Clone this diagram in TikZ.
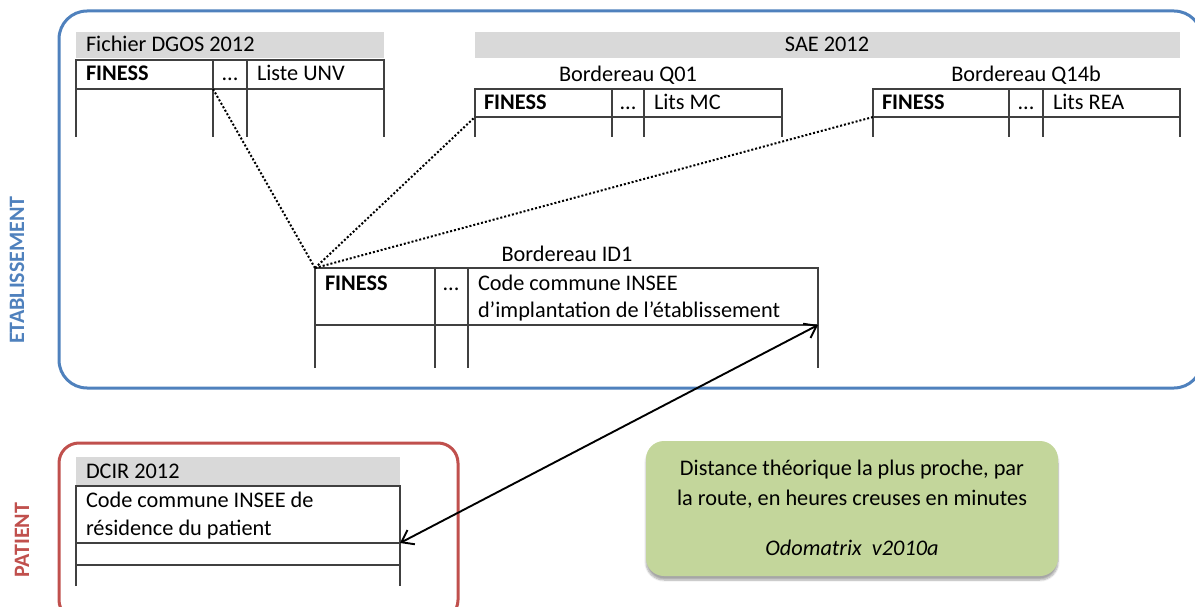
\documentclass[tikz,border=0pt]{standalone}
\usepackage{fontspec}
\setmainfont{Carlito}
\usetikzlibrary{arrows.meta,shadows.blur}
\definecolor{etabblue}{HTML}{4F81BD}
\definecolor{patred}{HTML}{C0504D}
\definecolor{hdrgray}{HTML}{D9D9D9}
\definecolor{greenfill}{HTML}{C3D69B}
\definecolor{tline}{HTML}{404040}
\begin{document}
\begin{tikzpicture}[x=1pt,y=-1pt,
  every node/.style={font=\fontsize{22.3}{27}\selectfont, inner sep=0pt, outer sep=0pt},
  hdrbar/.style={fill=hdrgray, draw=none},
  tbl/.style={draw=tline, line width=1.4pt},
  cell/.style={anchor=base west},
  bcell/.style={anchor=base west, font=\fontsize{22.3}{27}\selectfont\bfseries},
  dots/.style={anchor=base, font=\fontsize{22.3}{27}\selectfont},
  title/.style={anchor=base},
  link/.style={draw=black, line width=2pt, dash pattern=on 2pt off 2pt},
  dblarrow/.style={draw=black, line width=1.9pt, {Straight Barb[length=11pt,width=16pt]}-{Straight Barb[length=11pt,width=16pt]}},
  sidelabel/.style={rotate=90, font=\fontsize{22}{27}\selectfont\bfseries}
]
\useasboundingbox (0,0) rectangle (1195,607);

% ---------- group frames ----------
\draw[etabblue, line width=3pt, rounded corners=28pt] (59,11) rectangle (1202,388);
\draw[patred, line width=3pt, rounded corners=20pt] (59,443) rectangle (458,620);
\node[sidelabel, text=etabblue] (etab) at (17,270) {ETABLISSEMENT};
\node[sidelabel, text=patred] (pat) at (22,540) {PATIENT};

% ---------- Fichier DGOS 2012 ----------
\fill[hdrbar] (76,32) rectangle (384,58);
\node[cell] (dgost) at (86,52) {Fichier DGOS 2012};
\draw[tbl] (76,137) -- (76,60) -- (384,60) -- (384,137);
\draw[tbl] (76,89) -- (384,89);
\draw[tbl] (213,60) -- (213,137);
\draw[tbl] (247,60) -- (247,137);
\node[bcell] (dgosf) at (86,81) {FINESS};
\node[dots] (dgosd) at (230,81) {...};
\node[cell] (dgosl) at (257,81) {Liste UNV};
\coordinate (dgosjoin) at (213,89);

% ---------- SAE 2012 ----------
\fill[hdrbar] (475,32) rectangle (1180,58);
\node[title] (saet) at (827,52) {SAE 2012};

% Bordereau Q01
\node[title] (q01t) at (628,82) {Bordereau Q01};
\draw[tbl] (475,137) -- (475,89) -- (782,89) -- (782,137);
\draw[tbl] (475,117) -- (782,117);
\draw[tbl] (612,89) -- (612,137);
\draw[tbl] (644,89) -- (644,137);
\node[bcell] (q01f) at (484,110) {FINESS};
\node[dots] (q01d) at (628,110) {...};
\node[cell] (q01l) at (654,110) {Lits MC};
\coordinate (q01join) at (475,117);

% Bordereau Q14b
\node[title] (q14t) at (1026,82) {Bordereau Q14b};
\draw[tbl] (873,137) -- (873,89) -- (1180,89) -- (1180,137);
\draw[tbl] (873,117) -- (1180,117);
\draw[tbl] (1009,89) -- (1009,137);
\draw[tbl] (1043,89) -- (1043,137);
\node[bcell] (q14f) at (882,110) {FINESS};
\node[dots] (q14d) at (1026,110) {...};
\node[cell] (q14l) at (1053,110) {Lits REA};
\coordinate (q14join) at (873,117);

% Bordereau ID1
\node[title] (id1t) at (567,261) {Bordereau ID1};
\draw[tbl] (315,368) -- (315,268) -- (818,268) -- (818,368);
\draw[tbl] (315,325) -- (818,325);
\draw[tbl] (435,268) -- (435,368);
\draw[tbl] (468,268) -- (468,368);
\node[bcell] (id1f) at (325,290) {FINESS};
\node[dots] (id1d) at (451,290) {...};
\node[cell] (id1l1) at (478,290) {Code commune INSEE};
\node[cell] (id1l2) at (478,317) {d’implantation de l’établissement};
\coordinate (id1corner) at (315,268);
\coordinate (id1join) at (818,325);

% ---------- DCIR 2012 ----------
\fill[hdrbar] (76,457) rectangle (400,485);
\node[cell] (dcirt) at (86,478) {DCIR 2012};
\draw[tbl] (76,586) -- (76,486) -- (400,486) -- (400,586);
\draw[tbl] (76,543) -- (400,543);
\draw[tbl] (76,565) -- (400,565);
\node[cell] (dcir1) at (86,507) {Code commune INSEE de};
\node[cell] (dcir2) at (86,535) {résidence du patient};
\coordinate (dcirjoin) at (400,543);

% ---------- links ----------
\draw[link] (id1corner) -- (dgosjoin);
\draw[link] (id1corner) -- (q01join);
\draw[link] (id1corner) -- (q14join);
\draw[dblarrow] (dcirjoin) -- (id1join);

% ---------- Odomatrix box ----------
\node[fill=greenfill, rounded corners=18pt, minimum width=412pt, minimum height=135pt,
      blur shadow={shadow xshift=0pt, shadow yshift=-4pt, shadow blur steps=8, shadow opacity=35}]
      (odo) at (852,508.5) {};
\node[title] (odo1) at (852,475) {Distance théorique la plus proche, par};
\node[title] (odo2) at (852,505) {la route, en heures creuses en minutes};
\node[title, font=\fontsize{22.3}{27}\selectfont\itshape] (odo3) at (852,555) {Odomatrix\ \ v2010a};
\end{tikzpicture}
\end{document}
